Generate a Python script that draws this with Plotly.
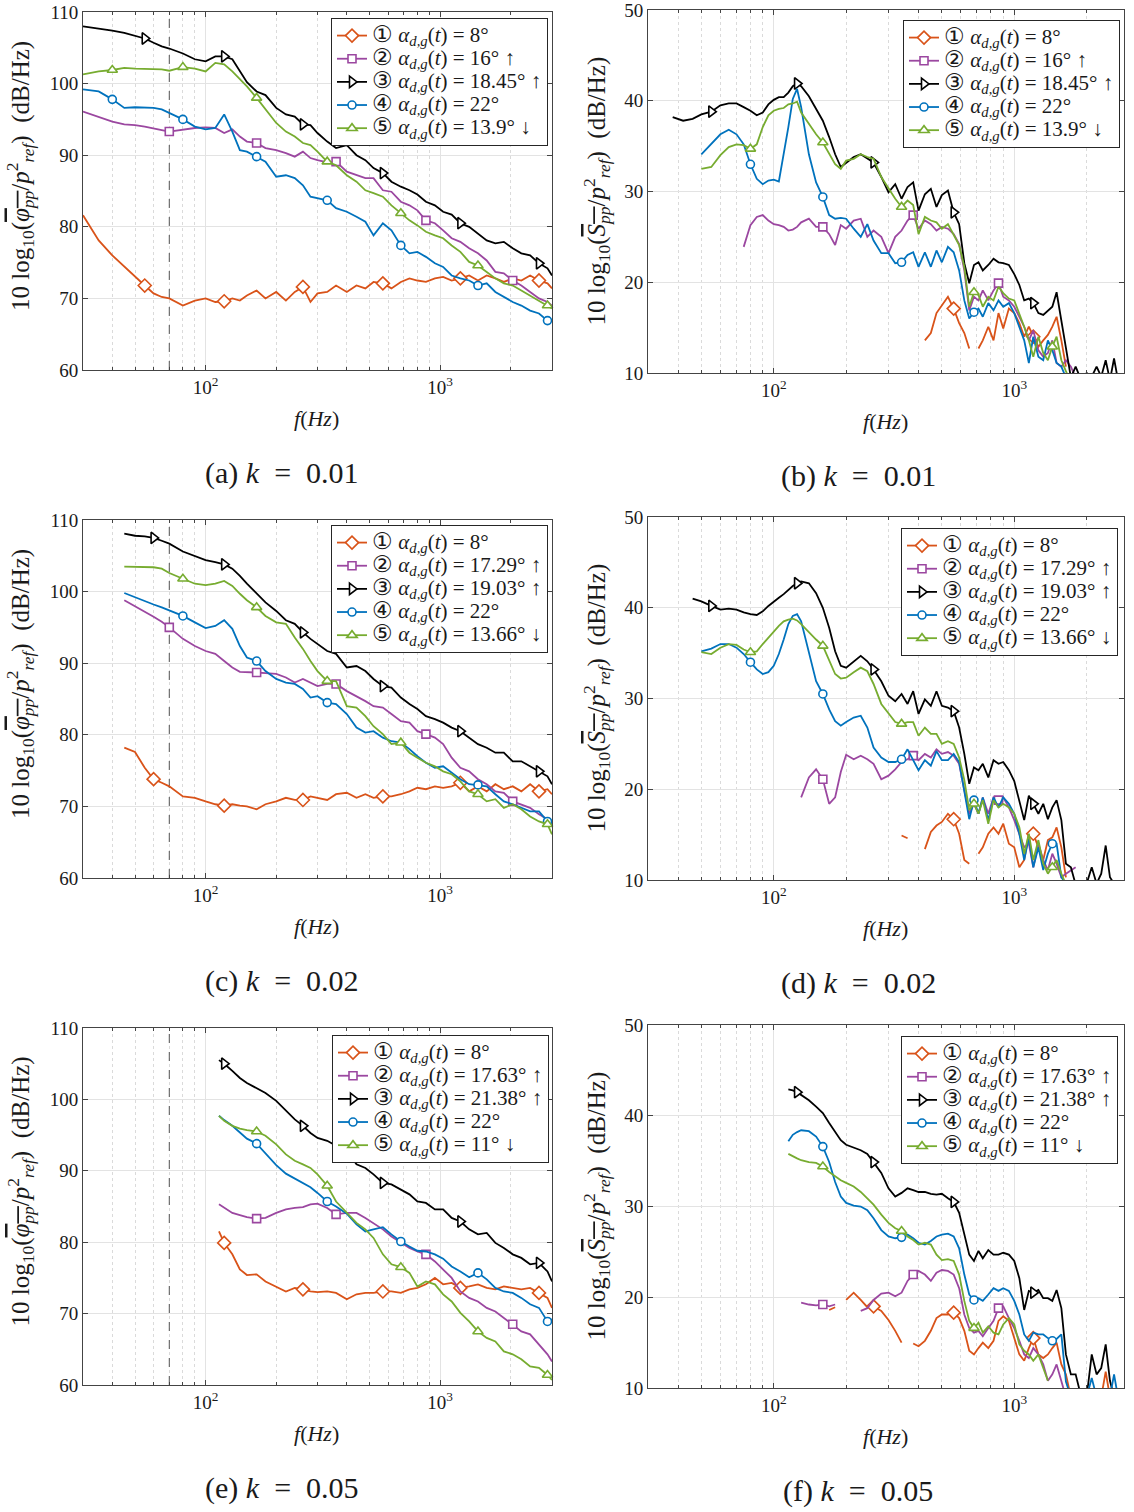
import numpy as np
import plotly.graph_objects as go

# ---------------- frequency grids (Hz) ----------------
F_L = [30, 35, 40, 45, 50, 55, 60, 65, 70, 80, 90, 100, 110, 120, 130, 140, 150, 165, 180,
       200, 220, 240, 260, 280, 300, 330, 360, 400, 440, 480, 520, 570, 620, 680, 740, 800,
       870, 950, 1030, 1120, 1220, 1330, 1450, 1580, 1720, 1870, 2040, 2220, 2420, 2640,
       2870, 3000]
F_LE = [114] + F_L[F_L.index(120):]
F_R = [38, 42, 46, 50, 55, 60, 65, 70, 75, 80, 85, 90, 95, 100, 105, 110, 115, 120, 125, 130,
       140, 150, 160, 170, 180, 190, 200, 215, 230, 245, 260, 280, 300, 320, 340, 360, 380, 400,
       425, 450, 475, 500, 530, 560, 590, 620, 650, 680, 710, 740, 780, 820, 860, 900, 950,
       1000, 1050, 1100, 1150, 1200, 1260, 1320, 1380, 1440, 1500, 1570, 1640, 1720, 1800,
       1900, 2000, 2100, 2200, 2300, 2400, 2500, 2600, 2700]
DASH_F = 70

# ---------------- legend labels ----------------
ANG_AB = ["8°", "16° ↑", "18.45° ↑", "22°", "13.9° ↓"]
ANG_CD = ["8°", "17.29° ↑", "19.03° ↑", "22°", "13.66° ↓"]
ANG_EF = ["8°", "17.63° ↑", "21.38° ↑", "22°", "11° ↓"]
CAPTIONS = ["(a)", "(b)", "(c)", "(d)", "(e)", "(f)"]
K_VALUES = ["0.01", "0.01", "0.02", "0.02", "0.05", "0.05"]

# ---------------- panel (a): phi_pp, k=0.01 (start freq, values) ----------------
A1 = (30, [81.6, 78.1, 76.0, 74.4, 73.0, 71.8, 70.7, 70.2, 70.0,
           69.0, 69.7, 70.0, 69.5, 69.6, 70.0, 69.7, 70.4, 71.1, 70.0,
           70.9, 69.7, 70.9, 71.6, 69.5, 70.7, 70.9, 71.8, 70.9, 71.8,
           71.4, 72.3, 72.1, 71.4, 72.3, 72.8, 72.5, 72.3, 72.8, 73.0,
           72.5, 72.8, 73.2, 72.5, 73.2, 72.8, 72.3, 72.8, 72.5, 73.2,
           72.5, 72.1, 71.4])
A2 = (30, [96.1, 95.4, 94.7, 94.3, 94.2, 94.0, 93.7, 93.5, 93.3,
           93.6, 93.8, 93.9, 93.8, 93.1, 93.6, 92.6, 91.9, 91.7, 91.0,
           90.7, 90.3, 89.8, 90.5, 89.6, 89.3, 89.0, 89.1, 87.7, 87.2,
           86.8, 86.8, 85.1, 84.9, 83.5, 83.0, 82.3, 80.9, 80.5, 79.5,
           78.4, 77.9, 77.0, 76.3, 75.3, 73.7, 73.5, 72.5, 71.8, 70.9,
           70.0, 69.5, 69.0])
A3 = (30, [108.0, 107.7, 107.4, 107.1, 106.7, 106.3, 105.7, 105.2, 104.9,
           104.2, 103.4, 103.1, 103.8, 103.8, 103.4, 101.7, 100.2, 98.9, 98.4,
           96.6, 95.7, 95.4, 94.3, 94.2, 93.1, 91.9, 91.0, 91.4, 90.0,
           89.3, 88.2, 87.5, 86.3, 85.6, 85.1, 84.5, 83.5, 83.0, 82.1,
           81.7, 80.5, 80.0, 79.1, 78.1, 77.7, 77.9, 77.0, 76.3, 76.0,
           74.9, 74.2, 73.2])
A4 = (30, [99.2, 98.9, 97.8, 96.6, 96.7, 96.7, 96.6, 96.4, 95.9,
           95.0, 94.0, 93.6, 93.8, 95.7, 93.3, 90.7, 90.5, 89.8, 89.1,
           87.0, 87.2, 86.8, 85.8, 84.2, 84.0, 83.7, 82.6, 82.1, 81.4,
           80.7, 78.8, 80.5, 79.5, 77.4, 76.3, 76.5, 75.8, 74.9, 74.4,
           73.2, 72.8, 72.5, 71.8, 72.1, 70.9, 70.2, 69.5, 69.0, 68.3,
           67.9, 66.9, 66.9])
A5 = (30, [101.3, 101.7, 101.9, 102.2, 102.1, 102.1, 102.1, 102.0, 101.8,
           102.3, 102.1, 101.7, 102.9, 102.7, 101.7, 100.6, 99.6, 98.0, 96.4,
           94.5, 93.3, 92.6, 91.7, 91.4, 90.5, 89.1, 88.6, 87.2, 86.3,
           85.1, 84.7, 84.2, 83.0, 81.9, 80.9, 80.2, 79.3, 78.8, 78.4,
           77.4, 76.5, 75.1, 74.6, 73.7, 72.8, 72.1, 71.8, 71.1, 70.4,
           69.7, 69.0, 68.6])
A_MK = [[57, 124, 262, 565, 1216, 2577], [68, 159, 369, 863, 2018],
        [57, 120, 262, 565, 1216, 2577], [39, 80, 164, 335, 692, 1419, 2918],
        [39, 80, 162, 335, 689, 1403, 2930]]

# ---------------- panel (b): S_pp, k=0.01 ----------------
B1 = (425, [13.6, 14.4, 16.6, 17.5, 18.4,
            17.1, 15.5, 14.4, 12.7, None, 12.7, 13.6, 15.1, 13.6, 16.6,
            14.9, 17.1, 16.6, 15.5, 14.0, 15.1, 14.0, 12.9, 13.6, 14.2,
            15.1, 16.2, 13.6, 10.7])
B2 = (75, [23.9, 26.3, 27.2, 27.4, 26.8,
           26.4, 26.3, 26.1, 25.7, 25.8, 26.1, 26.6, 27.0, 26.1, 26.1,
           25.3, 24.1, 26.3, 25.9, 26.8, 27.0, 25.0, 25.7, 25.0, 23.2,
           25.0, 25.7, 26.8, 27.4, 25.9, 26.8, 26.4, 25.7, 26.1, 25.9,
           25.3, 24.2, 21.3, 16.9, 18.4, 18.0, 19.1, 18.0, 19.1, 19.9,
           18.4, 18.0, 17.3, 16.2, 15.1, 13.6, 14.7, 12.5, 11.8, 12.2,
           13.6, 11.1, 10.7, 11.4, 10.7, 9.5])
B3 = (38, [38.2, 37.8, 38.0, 38.5, 38.8, 39.5, 39.7, 39.7, 39.3, 38.9,
           38.4, 38.7, 39.6, 40.1, 40.4, 40.4, 40.9, 41.6, 41.9, 41.6,
           40.5, 39.1, 37.8, 36.0, 34.1, 32.7, 33.2, 33.8, 34.1, 33.6,
           33.2, 31.6, 29.9, 30.8, 29.2, 30.5, 31.0, 27.9, 29.7, 30.3,
           28.3, 29.6, 30.1, 27.7, 26.4, 22.1, 19.9, 21.9, 22.2, 21.3,
           21.9, 22.6, 22.2, 22.1, 21.9, 20.9, 19.7, 18.0, 18.2, 17.7,
           16.6, 16.4, 16.9, 17.3, 18.9, 15.8, 12.9, 9.5, 10.7, 9.2,
           10.0, 9.6, 10.7, 9.6, 11.4, 9.2, 11.6, 9.2])
B4 = (50, [34.1, 35.2, 36.3, 36.8, 36.3, 35.2, 33.0, 31.4, 30.8, 31.2,
           31.3, 31.1, 34.1, 37.1, 40.2, 41.3, 39.3, 34.1, 31.0, 29.4,
           27.4, 27.0, 27.1, 27.0, 25.9, 25.0, 26.4, 24.6, 23.2, 23.2,
           22.1, 22.2, 23.0, 23.3, 21.7, 23.3, 21.7, 23.5, 22.2, 23.9,
           23.3, 21.3, 18.0, 16.0, 16.7, 17.1, 16.2, 17.7, 16.9, 18.0,
           17.3, 17.7, 16.6, 15.1, 13.6, 11.1, 14.0, 11.8, 11.4, 13.6,
           12.5, 11.1, 10.7, 9.5])
B5 = (50, [32.5, 32.7, 34.0, 34.9, 35.2, 35.1, 34.7, 35.2, 37.1, 38.4,
           38.9, 39.1, 39.2, 39.6, 39.7, 39.9, 38.7, 37.4, 36.3, 35.4,
           34.1, 33.0, 32.5, 33.4, 33.6, 34.1, 33.8, 33.6, 31.6, 30.3,
           29.2, 28.3, 29.0, 28.5, 25.3, 27.2, 26.8, 26.6, 25.9, 26.4,
           25.3, 24.1, 21.7, 17.3, 18.9, 18.6, 17.3, 18.4, 18.0, 19.5,
           18.8, 18.2, 18.0, 16.6, 15.1, 13.6, 11.8, 14.0, 12.2, 11.4,
           12.9, 14.0, 11.4, 10.2, 9.0])
B_MK = [[567, 1208], [159, 370, 866], [57, 124, 264, 569, 1222],
        [80, 164, 336, 689], [80, 164, 336, 689, 1419]]

# ---------------- panel (c): phi_pp, k=0.02 ----------------
C1 = (45, [78.2, 77.6, 75.4, 73.8, 73.3, 72.8,
           71.4, 71.2, 70.7, 70.3, 70.1, 70.3, 70.1, 70.0, 69.6, 70.3,
           70.7, 71.2, 70.9, 70.9, 71.4, 71.2, 70.9, 71.7, 71.9, 71.2,
           71.7, 71.2, 71.4, 71.4, 71.7, 72.1, 72.6, 72.4, 72.8, 72.6,
           72.8, 73.3, 72.1, 72.8, 72.1, 73.1, 72.4, 72.8, 72.1, 73.1,
           72.1, 72.4, 71.7])
C2 = (45, [98.8, 98.0, 97.2, 96.5, 95.8, 95.0,
           93.4, 92.4, 91.7, 91.3, 90.3, 89.4, 88.8, 88.8, 88.7, 88.6,
           88.5, 88.0, 87.3, 87.8, 87.3, 86.8, 87.1, 87.1, 86.1, 85.4,
           84.7, 84.0, 83.8, 82.9, 81.9, 81.7, 80.5, 80.1, 79.6, 78.7,
           76.8, 75.4, 74.9, 73.8, 73.1, 72.1, 71.9, 70.7, 70.3, 69.8,
           68.9, 68.2, 67.5])
C3 = (45, [108.1, 107.8, 107.7, 107.5, 107.1, 106.7,
           105.6, 105.0, 104.4, 104.1, 103.8, 103.2, 102.2, 101.1, 99.7, 98.5,
           97.3, 96.0, 95.5, 94.3, 93.4, 92.7, 91.7, 91.3, 89.4, 89.6,
           88.9, 87.8, 86.8, 86.6, 85.2, 84.3, 83.6, 82.6, 82.2, 81.7,
           81.0, 80.5, 79.6, 78.7, 78.2, 77.5, 77.5, 76.3, 76.3, 75.6,
           74.9, 74.2, 73.1])
C4 = (45, [99.8, 99.2, 98.6, 98.2, 97.8, 97.4,
           96.6, 95.7, 94.9, 95.2, 96.0, 94.8, 92.4, 90.8, 90.3, 88.9,
           87.8, 87.3, 87.1, 86.4, 85.2, 85.4, 84.5, 84.3, 82.9, 81.0,
           80.3, 80.5, 79.6, 79.1, 78.9, 78.0, 77.0, 76.1, 75.4, 75.6,
           74.7, 73.8, 73.1, 73.0, 72.8, 71.7, 70.7, 70.3, 69.8, 69.3,
           69.3, 67.9, 67.5])
C5 = (45, [103.5, 103.5, 103.5, 103.4, 103.2, 102.6,
           101.8, 101.1, 100.9, 101.1, 101.5, 100.8, 99.7, 98.8, 97.8, 96.6,
           95.7, 95.5, 93.6, 92.0, 90.3, 88.9, 87.5, 87.5, 84.0, 83.8,
           82.6, 81.2, 80.1, 78.7, 78.9, 77.5, 76.8, 76.1, 75.6, 74.9,
           74.5, 73.5, 72.1, 71.7, 70.7, 71.0, 69.8, 70.3, 69.6, 68.6,
           67.9, 67.5, 66.1])
C_MK = [[58, 124, 263, 565, 1216, 2577], [68, 159, 369, 863, 2018],
        [58, 124, 263, 565, 1216, 2577], [80, 163, 337, 1419, 2918],
        [80, 163, 337, 689, 1419, 2918]]

# ---------------- panel (d): S_pp, k=0.02 ----------------
D1 = (340, [14.9, 14.6, None, None, 13.4, 15.3, 16.0, 16.4, 17.3,
            16.7, 15.1, 12.2, 11.8, None, 12.9, 13.6, 15.1, 15.8, 15.1,
            16.2, 14.0, 13.6, 11.4, 12.2, 15.1, 15.1, 13.6, 12.2, 14.4,
            14.7, 15.8, 13.6, 10.3])
D2 = (130, [19.1, 21.3, 22.2, 21.1,
            18.4, 19.1, 21.9, 23.8, 23.3, 23.7, 23.3, 22.8, 21.1, 21.5,
            22.2, 23.0, 23.3, 23.7, 23.2, 23.9, 23.5, 24.4, 23.9, 24.1,
            23.7, 22.8, 19.9, 17.3, 18.4, 17.3, 19.1, 17.3, 19.1, 18.8,
            19.1, 18.0, 16.6, 15.1, 13.6, 14.0, 11.4, 14.0, 12.2, 11.1,
            12.9, 11.8, 10.3, 10.7, 11.1, 11.4])
D3 = (46, [41.0, 40.7, 40.2, 39.8, 39.9, 39.8, 39.5, 39.3, 39.2, 39.6, 40.2,
           40.7, 41.1, 41.5, 42.0, 42.4, 42.7, 42.9, 42.7, 41.6, 40.0,
           37.8, 35.2, 33.6, 33.4, 34.1, 34.7, 34.1, 33.2, 31.9, 30.3,
           29.7, 30.5, 29.4, 30.8, 28.3, 29.9, 29.2, 30.8, 29.2, 29.0,
           28.6, 26.8, 23.9, 20.6, 22.4, 22.1, 22.8, 21.3, 23.2, 22.8,
           23.0, 22.1, 20.9, 18.8, 16.6, 19.3, 18.4, 17.3, 18.4, 16.7,
           18.0, 18.8, 16.6, 11.8, 11.4, 9.5, 9.2,
           9.6, 11.4, 9.6, 10.7, 13.8, 10.3, 9.6])
D4 = (50, [35.2, 35.5, 36.0, 36.0, 35.6, 34.9, 34.0, 33.2, 32.7, 32.9,
           33.6, 34.9, 36.5, 38.2, 39.1, 39.3, 38.5, 34.9, 31.9, 30.5,
           28.8, 27.5, 27.0, 27.4, 27.9, 28.1, 26.8, 24.6, 23.5, 23.0,
           23.0, 23.3, 24.4, 23.2, 22.1, 23.2, 22.6, 24.2, 23.2, 23.2,
           23.9, 23.0, 19.9, 16.7, 18.8, 17.3, 19.1, 16.6, 19.1, 18.0,
           19.1, 18.4, 17.3, 15.1, 12.2, 14.7, 11.4, 13.6, 11.1, 12.9,
           14.0, 14.0, 10.3, 9.6])
D5 = (50, [35.1, 34.9, 35.6, 36.0, 35.9, 35.4, 35.1, 35.2, 36.0, 36.7,
           37.4, 38.0, 38.5, 38.7, 38.8, 38.6, 38.2, 37.3, 36.5, 35.8,
           34.1, 32.7, 32.2, 32.3, 32.9, 33.4, 33.0, 31.6, 29.4, 28.3,
           27.4, 27.2, 27.4, 27.4, 25.9, 26.8, 26.1, 26.1, 25.0, 25.3,
           25.0, 23.5, 21.0, 17.7, 18.4, 17.3, 18.8, 16.2, 18.8, 18.0,
           18.4, 18.0, 17.3, 15.8, 12.9, 15.1, 12.2, 14.4, 11.8, 10.7,
           11.4, 12.2, 10.7, 9.5])
D_MK = [[567, 1208], [159, 370, 866], [57, 125, 264, 569, 1222],
        [80, 164, 336, 689, 1419], [80, 164, 336, 689, 1419]]

# ---------------- panel (e): phi_pp, k=0.05 ----------------
E1 = (114, [81.5, 79.9, 78.3, 76.2, 75.4, 75.5, 74.5,
            73.8, 73.1, 73.6, 73.4, 73.1, 73.0, 73.1, 72.9, 72.0, 72.7,
            72.9, 72.9, 73.1, 73.1, 72.9, 73.4, 73.6, 74.1, 75.0, 74.1,
            74.3, 73.6, 73.8, 74.1, 73.6, 73.4, 73.8, 73.6, 73.4, 73.6,
            72.9, 72.2, 70.8])
E2 = (114, [85.3, 84.8, 84.1, 83.8, 83.5, 83.3, 83.4,
            84.1, 84.6, 84.8, 84.9, 85.3, 85.4, 84.8, 83.9, 84.1, 84.1,
            83.4, 82.7, 81.8, 80.8, 79.9, 79.2, 78.7, 78.3, 77.3, 76.2,
            75.0, 73.1, 72.2, 71.7, 70.8, 70.3, 69.4, 68.5, 67.5, 67.1,
            65.7, 64.3, 63.3])
E3 = (114, [105.5, 105.0, 104.0, 103.0, 102.3, 101.6, 100.9,
            99.8, 98.4, 97.2, 96.3, 95.3, 94.6, 94.2, 93.5, 92.8, 90.9,
            90.4, 89.5, 88.3, 88.1, 87.4, 86.7, 85.7, 85.5, 84.6, 84.6,
            83.4, 82.9, 81.8, 81.1, 81.3, 79.9, 79.2, 78.3, 77.8, 76.9,
            77.1, 75.9, 74.5])
E4 = (114, [97.7, 97.1, 96.3, 95.3, 94.5, 93.8, 92.5,
            90.8, 89.6, 88.9, 88.3, 87.7, 86.9, 85.7, 85.0, 84.0, 82.5,
            81.5, 81.8, 82.1, 81.1, 80.1, 79.4, 78.8, 78.7, 78.3, 77.7,
            76.6, 75.9, 75.1, 75.7, 74.8, 73.6, 73.1, 72.9, 72.2, 71.3,
            70.8, 68.9, 69.2])
E5 = (114, [97.7, 97.0, 96.3, 95.9, 95.7, 95.5, 94.9,
            93.7, 92.3, 91.4, 90.9, 90.4, 89.5, 87.9, 85.7, 84.1, 82.7,
            81.8, 80.6, 78.3, 76.9, 76.5, 75.7, 73.8, 74.5, 74.1, 72.7,
            71.7, 70.1, 68.9, 67.5, 66.6, 66.1, 64.7, 64.3, 63.6, 62.6,
            62.4, 61.4, 60.7])
E_MK = [[124, 262, 565, 1216, 2577], [159, 369, 863, 2018],
        [124, 262, 565, 1216, 2577], [164, 335, 692, 1419, 2918],
        [162, 335, 689, 1403, 2918]]

# ---------------- panel (f): S_pp, k=0.05 ----------------
F1 = (170, [18.6, 18.9, None,
            19.7, 20.5, 19.7, 18.9, 19.0, 18.5, 17.5, 16.3, 15.0, None,
            14.9, 14.6, 15.2, 16.3, 17.7, 18.1, 18.1,
            18.3, 17.7, 16.3, 14.1, 13.7, 14.4, 15.0, 14.4, 15.2, 17.4,
            17.9, 17.4, 15.5, 13.7, 13.0, 14.4, 15.5, 13.7, 13.3, 13.7,
            14.4, 15.0, 12.6, 11.5, 9.0, None, None, None, None, None,
            9.0, 11.8, 9.0])
F2 = (130, [19.4, 19.2, 19.1, 19.2, 19.0, 19.2, None, None, None,
            18.5, 18.8, 19.7, 20.4, 20.5,
            20.1, 20.5, 21.8, 22.5, 22.9, 22.5, 21.8, 22.7, 23.0, 22.9,
            22.5, 21.0, 18.1, 16.6, 16.1, 16.3, 15.7, 16.6, 17.4, 18.8,
            19.0, 17.7, 16.6, 15.2, 13.7, 13.3, 14.4, 13.7, 12.6, 10.8,
            11.5, 12.6, 10.8, 9.0])
F3 = (115, [42.9, 42.8, 42.6, 42.3, 41.7, 41.0, 40.3,
            39.2, 38.2, 37.3, 36.8, 36.5, 36.2, 35.8, 34.9, 33.7, 32.0,
            31.1, 31.5, 32.0, 31.8, 31.6, 31.6, 31.4, 31.3, 31.4, 30.9,
            30.5, 29.3, 26.9, 24.7, 24.0, 25.1, 24.3, 25.2, 24.7, 24.7,
            24.9, 24.7, 24.0, 22.1, 18.6, 20.7, 20.5, 20.8, 19.9, 19.9,
            19.6, 20.8, 18.8, 13.7, 11.5, 11.5, 9.0,
            9.0, 13.7, 11.5, 12.2, 14.8, 10.8, 9.0])
F4 = (115, [37.2, 37.9, 38.2, 38.4, 38.3, 37.7, 36.6,
            34.9, 32.7, 31.1, 30.4, 30.1, 30.0, 29.6, 28.7, 27.4, 26.7,
            26.5, 26.6, 26.9, 26.5, 26.0, 25.8, 26.2, 26.7, 26.9, 27.0,
            26.7, 25.4, 22.5, 20.3, 19.7, 19.9, 19.6, 20.3, 21.0, 20.7,
            21.0, 20.7, 19.6, 18.1, 15.9, 15.2, 16.1, 15.9, 15.9, 15.5,
            15.2, 15.4, 15.9, 10.7, 9.0, None, None,
            9.0, 11.1, 9.0, None, None, 9.0, 11.5, 9.0])
F5 = (115, [35.8, 35.5, 35.3, 35.1, 34.9, 34.8, 34.4,
            33.8, 33.3, 32.9, 32.6, 32.2, 31.6, 30.9, 30.2, 29.1, 28.2,
            27.6, 27.3, 26.7, 26.3, 25.8, 26.0, 25.8, 24.7, 24.1, 24.2,
            24.0, 22.5, 19.6, 17.4, 16.6, 17.2, 16.1, 16.8, 16.1, 15.9,
            17.0, 17.7, 17.0, 14.8, 14.1, 13.7, 13.0, 13.7, 12.2, 10.8])
F_MK = [[264, 569, 1208], [159, 370, 866], [123, 264, 569, 1222],
        [164, 336, 689, 1419], [164, 336, 689]]

# ---------------- styling ----------------
COLORS = ["#D95319", "#9B47A0", "#000000", "#0072BD", "#77AC30"]
SYMBOLS = ["diamond", "square", "triangle-right", "circle", "triangle-up"]
MSIZE = [10, 8, 10, 8, 9]
NUMS = ["①", "②", "③", "④", "⑤"]
FONT = "Liberation Serif"
TXT = "#1a1a1a"
W, H = 1134, 1512

panels = [
    dict(grid=F_L, data=[A1, A2, A3, A4, A5], mk=A_MK, ang=ANG_AB, kind="L",
         box=(83, 552, 12, 370), leg=(548, 18)),
    dict(grid=F_R, data=[B1, B2, B3, B4, B5], mk=B_MK, ang=ANG_AB, kind="R",
         box=(648, 1124, 10, 373), leg=(1120, 20)),
    dict(grid=F_L, data=[C1, C2, C3, C4, C5], mk=C_MK, ang=ANG_CD, kind="L",
         box=(83, 552, 520, 878), leg=(548, 525)),
    dict(grid=F_R, data=[D1, D2, D3, D4, D5], mk=D_MK, ang=ANG_CD, kind="R",
         box=(648, 1124, 517, 880), leg=(1118, 528)),
    dict(grid=F_LE, data=[E1, E2, E3, E4, E5], mk=E_MK, ang=ANG_EF, kind="L",
         box=(83, 552, 1028, 1385), leg=(549, 1035)),
    dict(grid=F_R, data=[F1, F2, F3, F4, F5], mk=F_MK, ang=ANG_EF, kind="R",
         box=(648, 1124, 1025, 1388), leg=(1118, 1036)),
]


def aligned(grid, series):
    f0, vals = series
    i0 = grid.index(f0)
    xs = grid[i0:i0 + len(vals)]
    return xs, vals[:len(xs)]


def marker_points(xs, ys, mfreqs):
    mx, my = [], []
    for mf in mfreqs:
        cands = [(abs(np.log10(x) - np.log10(mf)), k) for k, (x, y) in enumerate(zip(xs, ys))
                 if y is not None and y >= 10.5]
        if not cands:
            continue
        k = min(cands)[1]
        mx.append(xs[k])
        my.append(ys[k])
    return mx, my


fig = go.Figure()
layout = dict(width=W, height=H, margin=dict(l=0, r=0, t=0, b=0, autoexpand=False),
              paper_bgcolor="white", plot_bgcolor="white", showlegend=True,
              font=dict(family=FONT, color=TXT))
annotations = []

MINOR_L = [40, 50, 60, 70, 80, 90, 200, 300, 400, 500, 600, 700, 800, 900, 2000, 3000]
PHI = ("10 log<sub>10</sub>(<span style='text-decoration:overline'><i>φ</i><sub><i>pp</i></sub></span>"
       "/<i>p</i><sup>2</sup><sub><i>ref</i></sub>)  (dB/Hz)")
SPP = ("10 log<sub>10</sub>(<span style='text-decoration:overline'><i>S</i><sub><i>pp</i></sub></span>"
       "/<i>p</i><sup>2</sup><sub><i>ref</i></sub>)  (dB/Hz)")

for p_i, P in enumerate(panels):
    n = p_i + 1
    xa = "x" if n == 1 else f"x{n}"
    ya = "y" if n == 1 else f"y{n}"
    lg = "legend" if n == 1 else f"legend{n}"
    x0, x1, y0, y1 = P["box"]
    left = P["kind"] == "L"
    ymin, ymax = (60, 110) if left else (10, 50)
    xmax = 3000 if left else 2860

    if left:
        fig.add_trace(go.Scatter(x=[DASH_F, DASH_F], y=[ymin, ymax], mode="lines",
                                 line=dict(color="#555555", width=1, dash="dash"),
                                 xaxis=xa, yaxis=ya, showlegend=False, hoverinfo="skip"))

    for s_i, ser in enumerate(P["data"]):
        xs, ys = aligned(P["grid"], ser)
        c = COLORS[s_i]
        fig.add_trace(go.Scatter(x=xs, y=ys, mode="lines", line=dict(color=c, width=1.8),
                                 connectgaps=False, xaxis=xa, yaxis=ya, showlegend=False,
                                 hoverinfo="skip"))
        mx, my = marker_points(xs, ys, P["mk"][s_i])
        fig.add_trace(go.Scatter(x=mx, y=my, mode="markers",
                                 marker=dict(symbol=SYMBOLS[s_i], size=MSIZE[s_i], color="white",
                                             line=dict(color=c, width=1.6)),
                                 xaxis=xa, yaxis=ya, showlegend=False, hoverinfo="skip",
                                 cliponaxis=False))
    for s_i in range(5):
        c = COLORS[s_i]
        name = (f"<span style='font-size:21px'><span style='font-size:23px'>{NUMS[s_i]}</span> "
                f"<i>α</i><sub><i>d,g</i></sub>(<i>t</i>) = {P['ang'][s_i]}</span>")
        fig.add_trace(go.Scatter(x=[None], y=[None], mode="lines+markers", name=name,
                                 line=dict(color=c, width=1.8),
                                 marker=dict(symbol=SYMBOLS[s_i], size=MSIZE[s_i], color="white",
                                             line=dict(color=c, width=1.6)),
                                 xaxis=xa, yaxis=ya, legend=lg, showlegend=True))

    lx, ly = P["leg"]
    layout[lg] = dict(x=lx / W, y=1 - ly / H, xanchor="right", yanchor="top",
                      bgcolor="white", bordercolor="#262626", borderwidth=1,
                      font=dict(family=FONT, size=15.5, color=TXT),
                      tracegroupgap=0, itemwidth=30)

    xkey = "xaxis" if n == 1 else f"xaxis{n}"
    ykey = "yaxis" if n == 1 else f"yaxis{n}"
    layout[xkey] = dict(type="log", domain=[x0 / W, x1 / W], anchor=ya, automargin=False,
                        range=[np.log10(30), np.log10(xmax)],
                        tickmode="array", tickvals=[100, 1000],
                        ticktext=["10<sup>2</sup>", "10<sup>3</sup>"],
                        ticks="inside", ticklen=5, tickcolor="#444",
                        showline=True, linecolor="#444", linewidth=1, mirror="ticks",
                        showgrid=True, gridcolor="#e3e3e3", gridwidth=1, zeroline=False,
                        ticklabeloverflow="allow",
                        tickfont=dict(family=FONT, size=19, color=TXT),
                        minor=dict(tickmode="array", tickvals=MINOR_L, ticks="inside",
                                   ticklen=3, tickcolor="#444", showgrid=True,
                                   gridcolor="#dadada", griddash="dot", gridwidth=1))
    layout[ykey] = dict(domain=[1 - y1 / H, 1 - y0 / H], anchor=xa, automargin=False,
                        range=[ymin, ymax], tickmode="linear", tick0=0, dtick=10,
                        ticks="inside", ticklen=5, tickcolor="#444",
                        showline=True, linecolor="#444", linewidth=1, mirror="ticks",
                        showgrid=True, gridcolor="#e3e3e3", gridwidth=1, zeroline=False,
                        ticklabeloverflow="allow",
                        tickfont=dict(family=FONT, size=19, color=TXT))

    cx = (x0 + x1) / 2
    annotations.append(dict(text="<i>f</i>(<i>Hz</i>)", xref="paper", yref="paper",
                            x=(cx - 1) / W, y=1 - (y1 + 48) / H, showarrow=False,
                            xanchor="center", yanchor="middle",
                            font=dict(family=FONT, size=22, color=TXT)))
    annotations.append(dict(text=f"{CAPTIONS[p_i]}\u00a0<i>k</i>\u00a0\u00a0=\u00a0\u00a0{K_VALUES[p_i]}",
                            xref="paper", yref="paper",
                            x=(282 if left else 858) / W, y=1 - (y1 + 103) / H,
                            showarrow=False, xanchor="center", yanchor="middle",
                            font=dict(family=FONT, size=30, color=TXT)))
    annotations.append(dict(text=PHI if left else SPP, xref="paper", yref="paper",
                            x=(20 if left else 596) / W,
                            y=1 - ((y0 + y1) / 2 - (15 if left else 0)) / H,
                            showarrow=False, textangle=-90, xanchor="center", yanchor="middle",
                            font=dict(family=FONT, size=25, color=TXT)))

layout["annotations"] = annotations
fig.update_layout(**layout)

PIN = ("document.documentElement.style.margin='0';document.body.style.margin='0';"
       "document.body.style.padding='0';document.body.style.overflow='hidden';"
       "var gd=document.getElementById('{plot_id}');gd.style.position='absolute';"
       "gd.style.left='0px';gd.style.top='0px';")
fig.write_html("out.html", post_script=PIN, config={"displayModeBar": False})
